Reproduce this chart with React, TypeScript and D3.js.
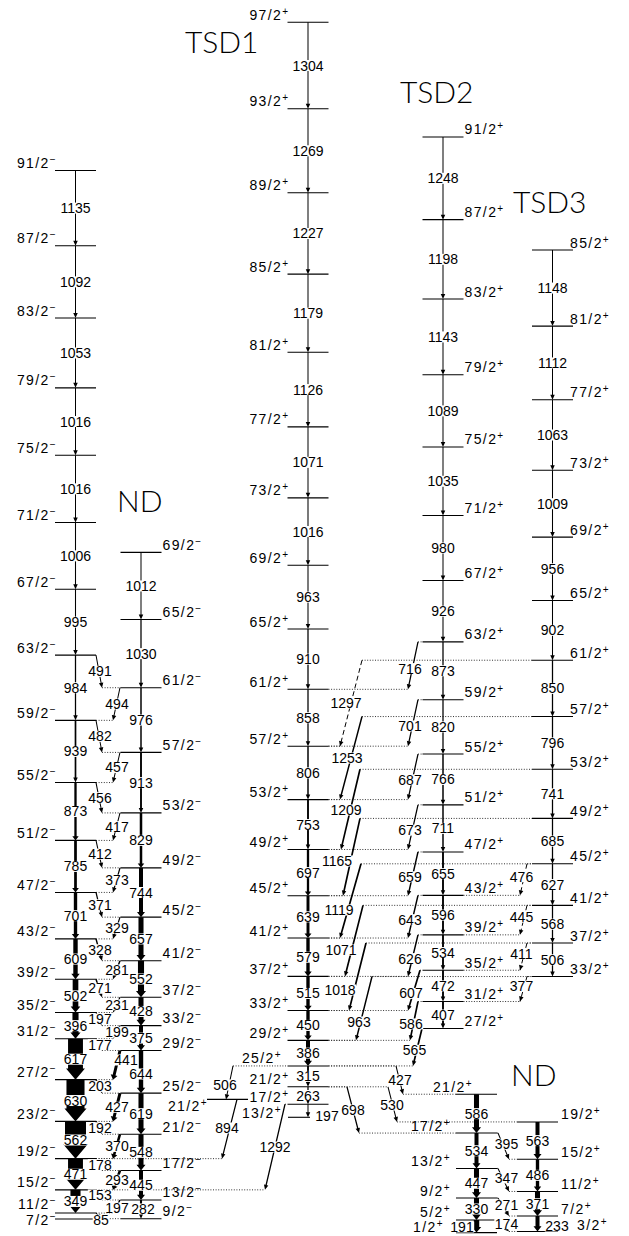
import React from "react";
import * as d3 from "d3";

type Level = [string, number];
type Casc = [number, number];
type Link = [string, string, string, string, number, number, boolean?];

// ---------- level energies (keV, relative to the 1/2+ state) ----------
const levelsL1: Level[] = [["7/2-",205],["11/2-",295],["15/2-",645],["19/2-",1116],["23/2-",1678],["27/2-",2308],["31/2-",2925],["35/2-",3321],["39/2-",3823],["43/2-",4432],["47/2-",5133],["51/2-",5918],["55/2-",6791],["59/2-",7730],["63/2-",8714],["67/2-",9709],["71/2-",10715],["75/2-",11731],["79/2-",12747],["83/2-",13800],["87/2-",14892],["91/2-",16027]];
const levelsL2: Level[] = [["9/2-",210],["13/2-",492],["17/2-",937],["21/2-",1485],["25/2-",2104],["29/2-",2748],["33/2-",3123],["37/2-",3551],["41/2-",4103],["45/2-",4760],["49/2-",5504],["53/2-",6333],["57/2-",7246],["61/2-",8222],["65/2-",9252],["69/2-",10264]];
const levelsX: Level[] = [["21/2+",2010]];
const levelsT1: Level[] = [["13/2+",1740],["17/2+",1937],["21/2+",2200],["25/2+",2515],["29/2+",2901],["33/2+",3351],["37/2+",3866],["41/2+",4445],["45/2+",5084],["49/2+",5781],["53/2+",6534],["57/2+",7340],["61/2+",8198],["65/2+",9108],["69/2+",10071],["73/2+",11087],["77/2+",12158],["81/2+",13284],["85/2+",14463],["89/2+",15690],["93/2+",16959],["97/2+",18263]];
const levelsT2: Level[] = [["27/2+",3080],["31/2+",3487],["35/2+",3959],["39/2+",4493],["43/2+",5089],["47/2+",5744],["51/2+",6455],["55/2+",7221],["59/2+",8041],["63/2+",8914],["67/2+",9840],["71/2+",10820],["75/2+",11855],["79/2+",12944],["83/2+",14087],["87/2+",15285],["91/2+",16533]];
const levelsT3: Level[] = [["33/2+",3864],["37/2+",4370],["41/2+",4938],["45/2+",5565],["49/2+",6250],["53/2+",6991],["57/2+",7787],["61/2+",8637],["65/2+",9539],["69/2+",10495],["73/2+",11504],["77/2+",12567],["81/2+",13679],["85/2+",14827]];
const levelsR1: Level[] = [["1/2+",0],["5/2+",191],["9/2+",521],["13/2+",968],["17/2+",1502],["21/2+",2088]];
const levelsR2: Level[] = [["3/2+",17],["7/2+",250],["11/2+",621],["15/2+",1107],["19/2+",1670]];

// ---------- in-band cascades, top-down: [E_gamma, relative intensity] ----------
const cascL1: Casc[] = [[1135,4],[1092,4],[1053,4],[1016,4],[1016,4],[1006,5],[995,5],[984,6],[939,8],[873,11],[785,13],[701,16],[609,21],[502,27],[396,29],[617,71],[630,86],[562,100],[471,71],[349,48]];
const cascL2: Casc[] = [[1012,4],[1030,6],[976,7],[913,9],[829,12],[744,19],[657,24],[552,29],[428,24],[375,19],[644,21],[619,24],[548,24],[445,19],[282,10]];
const cascT1: Casc[] = [[1304,4],[1269,4],[1227,4],[1179,4],[1126,4],[1071,4],[1016,5],[963,5],[910,6],[858,6],[806,7],[753,9],[697,11],[639,14],[579,16],[515,16],[450,16],[386,19],[315,9],[263,6],[197,4]];
const cascT2: Casc[] = [[1248,4],[1198,4],[1143,4],[1089,4],[1035,4],[980,4],[926,5],[873,6],[820,6],[766,7],[711,7],[655,9],[596,9],[534,9],[472,9],[407,9]];
const cascT3: Casc[] = [[1148,4],[1112,4],[1063,4],[1009,5],[956,5],[902,5],[850,6],[796,6],[741,6],[685,6],[627,6],[568,6],[506,6]];
const cascR1: Casc[] = [[586,24],[534,19],[447,24],[330,24],[191,26]];
const cascR2: Casc[] = [[563,19],[486,16],[371,24],[233,19]];

// ---------- inter-band transitions: [fromBand, fromSpin, toBand, toSpin, E, intensity, tentative] ----------
const linksND: Link[] = [
  ["L1","63/2-","L2","61/2-",491,4],["L2","61/2-","L1","59/2-",494,4],
  ["L1","59/2-","L2","57/2-",482,4],["L2","57/2-","L1","55/2-",457,4],
  ["L1","55/2-","L2","53/2-",456,5],["L2","53/2-","L1","51/2-",417,5],
  ["L1","51/2-","L2","49/2-",412,5],["L2","49/2-","L1","47/2-",373,6],
  ["L1","47/2-","L2","45/2-",371,6],["L2","45/2-","L1","43/2-",329,6],
  ["L1","43/2-","L2","41/2-",328,7],["L2","41/2-","L1","39/2-",281,7],
  ["L1","39/2-","L2","37/2-",271,7],["L2","37/2-","L1","35/2-",231,6],
  ["L1","35/2-","L2","33/2-",197,6],["L2","33/2-","L1","31/2-",199,6],
  ["L1","31/2-","L2","29/2-",177,6],["L2","29/2-","L1","27/2-",441,14],
  ["L1","27/2-","L2","25/2-",203,7],["L2","25/2-","L1","23/2-",427,14],
  ["L1","23/2-","L2","21/2-",192,9],["L2","21/2-","L1","19/2-",370,12],
  ["L1","19/2-","L2","17/2-",178,7],["L2","17/2-","L1","15/2-",293,12],
  ["L1","15/2-","L2","13/2-",153,7],["L2","13/2-","L1","11/2-",197,7],
  ["L1","11/2-","L2","9/2-",85,5],
];
const linksTSD: Link[] = [
  ["T2","63/2+","T1","61/2+",716,6],["T2","59/2+","T1","57/2+",701,6],
  ["T2","55/2+","T1","53/2+",687,6],["T2","51/2+","T1","49/2+",673,6],
  ["T2","47/2+","T1","45/2+",659,7],["T2","43/2+","T1","41/2+",643,7],
  ["T2","39/2+","T1","37/2+",626,7],["T2","35/2+","T1","33/2+",607,8],
  ["T2","31/2+","T1","29/2+",586,8],["T2","27/2+","T1","25/2+",565,8],
  ["T3","61/2+","T1","57/2+",1297,5,true],["T3","57/2+","T1","53/2+",1253,7],
  ["T3","53/2+","T1","49/2+",1209,8],["T3","49/2+","T1","45/2+",1165,8],
  ["T3","45/2+","T1","41/2+",1119,8],["T3","41/2+","T1","37/2+",1071,8],
  ["T3","37/2+","T1","33/2+",1018,8],["T3","33/2+","T1","29/2+",963,7],
  ["T3","45/2+","T2","43/2+",476,5,true],["T3","41/2+","T2","39/2+",445,5,true],
  ["T3","37/2+","T2","35/2+",411,5,true],["T3","33/2+","T2","31/2+",377,5,true],
];
const linksLow: Link[] = [
  ["T1","25/2+","X","21/2+",506,5],["X","21/2+","L1","19/2-",894,6],
  ["T1","17/2+","L1","15/2-",1292,6],["T1","21/2+","R1","17/2+",698,6],
  ["T1","21/2+","R2","19/2+",530,5],["T1","25/2+","R1","21/2+",427,5],
  ["R1","17/2+","R2","15/2+",395,5],["R1","13/2+","R2","11/2+",347,5],
  ["R1","9/2+","R2","7/2+",271,5],["R1","5/2+","R2","3/2+",174,5],
];
const titles: [string, number, number][] = [["TSD1",185,53],["TSD2",400,103],["TSD3",513,213],["ND",117,512],["ND",511,1086]];

// ---------- layout ----------
const W = 629, H = 1236;
const PX_PER_KEV = 0.06627, Y0 = 1232.6;
const yScale = d3.scaleLinear().domain([0, 18000]).range([Y0, Y0 - 18000 * PX_PER_KEV]);
const bandNames = ["L1","L2","X","T1","T2","T3","R1","R2"];
const bandX = d3.scaleOrdinal<string, number>().domain(bandNames).range([75.5, 141, 227.5, 308, 443, 552.5, 476.5, 537.5]);
const widthScale = d3.scaleLinear().domain([0, 100]).range([0, 21]);
const HALF = 20.5;
const labelSide: Record<string, string> = { L1: "left", L2: "right", X: "left", T1: "left", T2: "right", T3: "right", R1: "left", R2: "right" };
const segTweak: Record<string, [number, number]> = { "T1:13/2+": [288, 310] };
const spinTweak: Record<string, { x?: number; dy?: number }> = {
  "R1:21/2+": { x: 473 }, "R1:1/2+": { x: 444, dy: 2 }, "R2:3/2+": { x: 577, dy: 1 },
  "T1:25/2+": { x: 282 }, "T1:13/2+": { x: 282, dy: 3 },
  "L1:7/2-": { dy: 8 }, "L1:11/2-": { dy: -1.5 }, "X:21/2+": { x: 208, dy: 14 },
};
const pairGeom: Record<string, { sx: number; ex: number; ldx: number; ldy: number }> = {
  "L1>L2": { sx: 96, ex: 102, ldx: 1, ldy: 0 },
  "L2>L1": { sx: 120, ex: 113, ldx: 0.5, ldy: 0 },
  "T2>T1": { sx: 418, ex: 408, ldx: -3, ldy: 3 },
  "T3>T2": { sx: 527, ex: 520, ldx: -2, ldy: -3 },
  "R1>R2": { sx: 498, ex: 509, ldx: 3, ldy: -2 },
};
const linkTweak: Record<string, { sx?: number; ex?: number; lx?: number; ly?: number }> = {
  T31297: { sx: 362, ex: 340, lx: 346, ly: 703 }, T31253: { sx: 362, ex: 340, lx: 347, ly: 758 },
  T31209: { sx: 360, ex: 341, lx: 346, ly: 810 }, T31165: { sx: 360, ex: 343, lx: 337, ly: 861 },
  T31119: { sx: 361, ex: 340, lx: 339, ly: 910 }, T31071: { sx: 363, ex: 345, lx: 341, ly: 950 },
  T31018: { sx: 366, ex: 349, lx: 340, ly: 990 }, T3963: { sx: 372, ex: 356, lx: 359, ly: 1022 },
  T2565: { sx: 422, ex: 413 }, T2586: { sx: 418, ex: 410 }, T2607: { sx: 420, ex: 408 },
  L2441: { lx: 126, ly: 1060 }, L185: { lx: 101, ly: 1220 }, L2197: { lx: 117, ly: 1208 },
  T1506: { sx: 233, ex: 226, lx: 225, ly: 1085 }, X894: { sx: 237, ex: 222, lx: 227, ly: 1128 },
  T11292: { sx: 285, ex: 265, lx: 275, ly: 1147 }, T1698: { sx: 347, ex: 359, lx: 353, ly: 1110 },
  T1530: { sx: 388, ex: 397, lx: 392, ly: 1105 }, T1427: { sx: 396, ex: 403, lx: 400, ly: 1080 },
};
const casLabelTweak: Record<string, [number, number]> = {
  T1197: [327, 1116], R1191: [462, 1227], R2233: [557, 1226], L2282: [143, 1209], L2644: [141, 1074],
};

const FONT = "'Liberation Sans', Arial, sans-serif";

type LV = { band: string; spin: string; e: number; y: number; x0: number; x1: number; cx: number };

function arrowPath(x1: number, y1: number, x2: number, y2: number, w: number) {
  const dx = x2 - x1, dy = y2 - y1, L = Math.hypot(dx, dy) || 1;
  const ux = dx / L, uy = dy / L, px = -uy, py = ux;
  const thin = w <= 2.2;
  const hl = thin ? 5 : Math.min(w * 0.55 + 3, L * 0.45);
  const hw = thin ? 4.5 : w + 4;
  const bx = x2 - ux * hl, by = y2 - uy * hl;
  const pts = [
    [x1 + px * w / 2, y1 + py * w / 2], [bx + px * w / 2, by + py * w / 2], [bx + px * hw / 2, by + py * hw / 2],
    [x2, y2], [bx - px * hw / 2, by - py * hw / 2], [bx - px * w / 2, by - py * w / 2], [x1 - px * w / 2, y1 - py * w / 2],
  ];
  return "M" + pts.map((p) => p[0].toFixed(2) + "," + p[1].toFixed(2)).join("L") + "Z";
}

function headPath(x1: number, y1: number, x2: number, y2: number) {
  const dx = x2 - x1, dy = y2 - y1, L = Math.hypot(dx, dy) || 1;
  const ux = dx / L, uy = dy / L, px = -uy, py = ux;
  const bx = x2 - ux * 5, by = y2 - uy * 5;
  return `M${x2},${y2}L${bx + px * 2.3},${by + py * 2.3}L${bx - px * 2.3},${by - py * 2.3}Z`;
}

function Num({ x, y, t }: { x: number; y: number; t: number }) {
  const s = String(t);
  const w = s.length * 7.8 + 1;
  return (
    <g>
      <rect x={x - w / 2} y={y - 5.5} width={w} height={11} fill="#fff" />
      <text x={x} y={y + 5} textAnchor="middle" fontFamily={FONT} fontSize={14} fill="#000">{s}</text>
    </g>
  );
}

function Spin({ x, y, spin, anchor }: { x: number; y: number; spin: string; anchor: "start" | "end" }) {
  const base = spin.slice(0, -1);
  const sign = spin.slice(-1) === "-" ? "\u2212" : "+";
  return (
    <text x={x} y={y} textAnchor={anchor} fontFamily={FONT} fontSize={14} letterSpacing={1.4} fill="#000">
      {base}
      <tspan dy={-5} fontSize={10}>{sign}</tspan>
    </text>
  );
}

export default function App() {
  const sets: [string, Level[], Casc[]][] = [
    ["L1", levelsL1, cascL1], ["L2", levelsL2, cascL2], ["X", levelsX, []], ["T1", levelsT1, cascT1],
    ["T2", levelsT2, cascT2], ["T3", levelsT3, cascT3], ["R1", levelsR1, cascR1], ["R2", levelsR2, cascR2],
  ];
  const lv = new Map<string, LV>();
  sets.forEach(([band, levels]) => {
    levels.forEach(([spin, e]) => {
      const cx = bandX(band);
      const seg = segTweak[band + ":" + spin] || [cx - HALF, cx + HALF];
      lv.set(band + ":" + spin, { band, spin, e, y: yScale(e), x0: seg[0], x1: seg[1], cx });
    });
  });

  const dotted: React.ReactNode[] = [];
  const levelLines: React.ReactNode[] = [];
  const arrows: React.ReactNode[] = [];
  const labels: React.ReactNode[] = [];
  const spins: React.ReactNode[] = [];

  lv.forEach((l, k) => {
    levelLines.push(<line key={"lv" + k} x1={l.x0} x2={l.x1} y1={l.y} y2={l.y} stroke="#000" strokeWidth={1.1} />);
    const side = labelSide[l.band];
    const tw = spinTweak[k] || {};
    const anchor = side === "left" ? "end" : "start";
    let x = side === "left" ? l.x0 + 2 : l.x1 + 1;
    if (l.band === "R1") x = l.x0 - 5;
    if (l.band === "L1") x = l.x0 + 2;
    if (l.band === "T3") x = l.x1 - 3;
    if (l.band === "R2") x = l.x1 + 3;
    if (tw.x !== undefined) x = tw.x;
    const y = l.y - 2.5 + (tw.dy || 0);
    spins.push(<Spin key={"sp" + k} x={x} y={y} spin={l.spin} anchor={anchor as any} />);
  });

  // in-band cascades
  sets.forEach(([band, levels, casc]) => {
    const n = levels.length;
    casc.forEach(([eg, inten], i) => {
      const from = lv.get(band + ":" + levels[n - 1 - i][0])!;
      const to = lv.get(band + ":" + levels[n - 2 - i][0])!;
      const w = Math.max(1, widthScale(inten));
      arrows.push(<path key={"c" + band + i} d={arrowPath(from.cx, from.y, to.cx, to.y, w)} fill="#000" />);
      const tk = casLabelTweak[band + eg];
      const lx = tk ? tk[0] : from.cx;
      const ly = tk ? tk[1] : (from.y + to.y) / 2;
      labels.push(<Num key={"cl" + band + i} x={lx} y={ly} t={eg} />);
    });
  });

  // inter-band links
  [...linksND, ...linksTSD, ...linksLow].forEach((lk, i) => {
    const [fb, fs, tb, ts, eg, inten, tent] = lk;
    const from = lv.get(fb + ":" + fs)!;
    const to = lv.get(tb + ":" + ts)!;
    const pg = pairGeom[fb + ">" + tb] || { sx: from.cx, ex: to.cx, ldx: 0, ldy: 0 };
    const tw = linkTweak[fb + eg] || {};
    const sx = tw.sx ?? pg.sx, ex = tw.ex ?? pg.ex;
    const y1 = from.y, y2 = to.y;
    const ext = (l: LV, x: number, key: string) => {
      if (x < l.x0 - 0.5) dotted.push(<line key={key} x1={x} x2={l.x0} y1={l.y} y2={l.y} stroke="#333" strokeWidth={1} strokeDasharray="1 1.6" />);
      else if (x > l.x1 + 0.5) dotted.push(<line key={key} x1={l.x1} x2={x} y1={l.y} y2={l.y} stroke="#333" strokeWidth={1} strokeDasharray="1 1.6" />);
    };
    ext(from, sx, "ds" + i);
    ext(to, ex, "de" + i);
    const w = Math.max(1, widthScale(inten));
    if (tent) {
      arrows.push(
        <g key={"lk" + i}>
          <line x1={sx} y1={y1} x2={ex} y2={y2} stroke="#000" strokeWidth={1} strokeDasharray="5 3" />
          <path d={headPath(sx, y1, ex, y2)} fill="#000" />
        </g>
      );
    } else {
      arrows.push(<path key={"lk" + i} d={arrowPath(sx, y1, ex, y2, w)} fill="#000" />);
    }
    const lx = tw.lx ?? (sx + ex) / 2 + pg.ldx;
    const ly = tw.ly ?? (y1 + y2) / 2 + pg.ldy;
    labels.push(<Num key={"ll" + i} x={lx} y={ly} t={eg} />);
  });

  return (
    <svg width={W} height={H} viewBox={`0 0 ${W} ${H}`} style={{ position: "absolute", left: 0, top: 0, background: "#fff" }}>
      <rect x={0} y={0} width={W} height={H} fill="#fff" />
      <g>{dotted}</g>
      <g>{levelLines}</g>
      <g>{arrows}</g>
      <g>{labels}</g>
      <g>{spins}</g>
      <g>
        {titles.map(([t, x, y]) => (
          <text key={t + x} x={x} y={y} fontFamily="Lato, 'Open Sans', sans-serif" fontWeight={300} fontSize={30} fill="#000">{t}</text>
        ))}
      </g>
    </svg>
  );
}
